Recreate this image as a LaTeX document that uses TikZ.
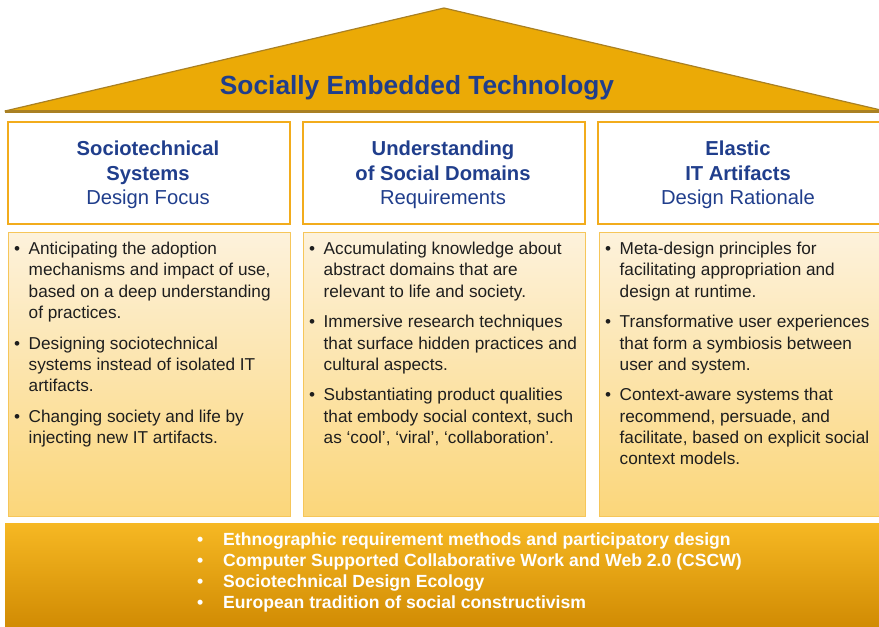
\documentclass[tikz,border=0pt]{standalone}
\usepackage{fontspec}
\setmainfont{Liberation Sans}
\usetikzlibrary{shadings}

\definecolor{roofgold}{HTML}{EBAA06}
\definecolor{roofedge}{HTML}{A98023}
\definecolor{titleblue}{HTML}{203E8C}
\definecolor{hdrframe}{HTML}{F2AC1C}
\definecolor{colframe}{HTML}{F6C65A}
\definecolor{coltop}{HTML}{FDF2DC}
\definecolor{colbot}{HTML}{FBD67A}
\definecolor{bandtop}{HTML}{F6B823}
\definecolor{bandbot}{HTML}{D08A02}
\definecolor{bodytext}{HTML}{1E1E1E}

% one bulleted paragraph with hanging indent
\newcommand\bpoint[1]{\par\noindent\hangindent=14.5pt\hangafter=1%
  \makebox[14.5pt][l]{\textbullet}#1\par}
% a column of bulleted paragraphs; \\ breaks a line inside a paragraph
\newcommand\bulletcol[1]{\begin{minipage}[t]{275pt}\raggedright\let\\\newline
  \parskip=9.3pt\fontsize{17.2}{21.3}\selectfont #1\end{minipage}}

\tikzset{
  x=1pt, y=-1pt,
  headbox/.style={draw=hdrframe, line width=2pt, fill=white},
  colbox/.style={draw=colframe, line width=1pt, top color=coltop, bottom color=colbot},
  headtext/.style={align=center, text=titleblue, font=\fontsize{20.2}{24.5}\selectfont, inner sep=0pt},
  bodylist/.style={anchor=base west, inner sep=0pt, text=bodytext},
  bandtext/.style={anchor=base west, inner sep=0pt, text=white, align=left,
    font=\bfseries\fontsize{17.6}{21}\selectfont},
}

\begin{document}
\begin{tikzpicture}
\useasboundingbox (0,0) rectangle (879,627);

% roof
\draw[fill=roofgold, draw=roofedge, line width=1.2pt, line join=round]
  (5,111) -- (444,8) -- (885,111) -- cycle;
\draw[roofedge, line width=2.2pt] (5,111.5) -- (885,111.5);
\node[text=titleblue, font=\bfseries\fontsize{26.3}{30}\selectfont, inner sep=0pt, anchor=base]
  (roof) at (417,94.5) {Socially Embedded Technology};

% column headers
\draw[headbox] (8,122) rectangle (290,224);
\draw[headbox] (303,122) rectangle (585,224);
\draw[headbox] (598,122) rectangle (890,224);
\node[headtext] (h1) at (148,175) {\textbf{Sociotechnical}\\\textbf{Systems}\\Design Focus};
\node[headtext] (h2) at (443,175) {\textbf{Understanding}\\\textbf{of Social Domains}\\Requirements};
\node[headtext] (h3) at (738,175) {\textbf{Elastic}\\\textbf{IT Artifacts}\\Design Rationale};

% column contents
\draw[colbox] (8,232) rectangle (290,516);
\draw[colbox] (303,232) rectangle (585,516);
\draw[colbox] (599,232) rectangle (890,516);

\node[bodylist] (c1) at (14,254.5) {\bulletcol{%
  \bpoint{Anticipating the adoption\\mechanisms and impact of use,\\based on a deep understanding\\of practices.}
  \bpoint{Designing sociotechnical\\systems instead of isolated IT\\artifacts.}
  \bpoint{Changing society and life by\\injecting new IT artifacts.}}};
\node[bodylist] (c2) at (309,254.5) {\bulletcol{%
  \bpoint{Accumulating knowledge about\\abstract domains that are\\relevant to life and society.}
  \bpoint{Immersive research techniques\\that surface hidden practices and\\cultural aspects.}
  \bpoint{Substantiating product qualities\\that embody social context, such\\as ‘cool’, ‘viral’, ‘collaboration’.}}};
\node[bodylist] (c3) at (605,254.5) {\bulletcol{%
  \bpoint{Meta-design principles for\\facilitating appropriation and\\design at runtime.}
  \bpoint{Transformative user experiences\\that form a symbiosis between\\user and system.}
  \bpoint{Context-aware systems that\\recommend, persuade, and\\facilitate, based on explicit social\\context models.}}};

% foundation band
\shade[top color=bandtop, bottom color=bandbot] (5,523) rectangle (885,630);
\node[bandtext] (band) at (197,608.7) {%
  \makebox[26pt][l]{\textbullet}Ethnographic requirement methods and participatory design\\
  \makebox[26pt][l]{\textbullet}Computer Supported Collaborative Work and Web 2.0 (CSCW)\\
  \makebox[26pt][l]{\textbullet}Sociotechnical Design Ecology\\
  \makebox[26pt][l]{\textbullet}European tradition of social constructivism};
\end{tikzpicture}
\end{document}
